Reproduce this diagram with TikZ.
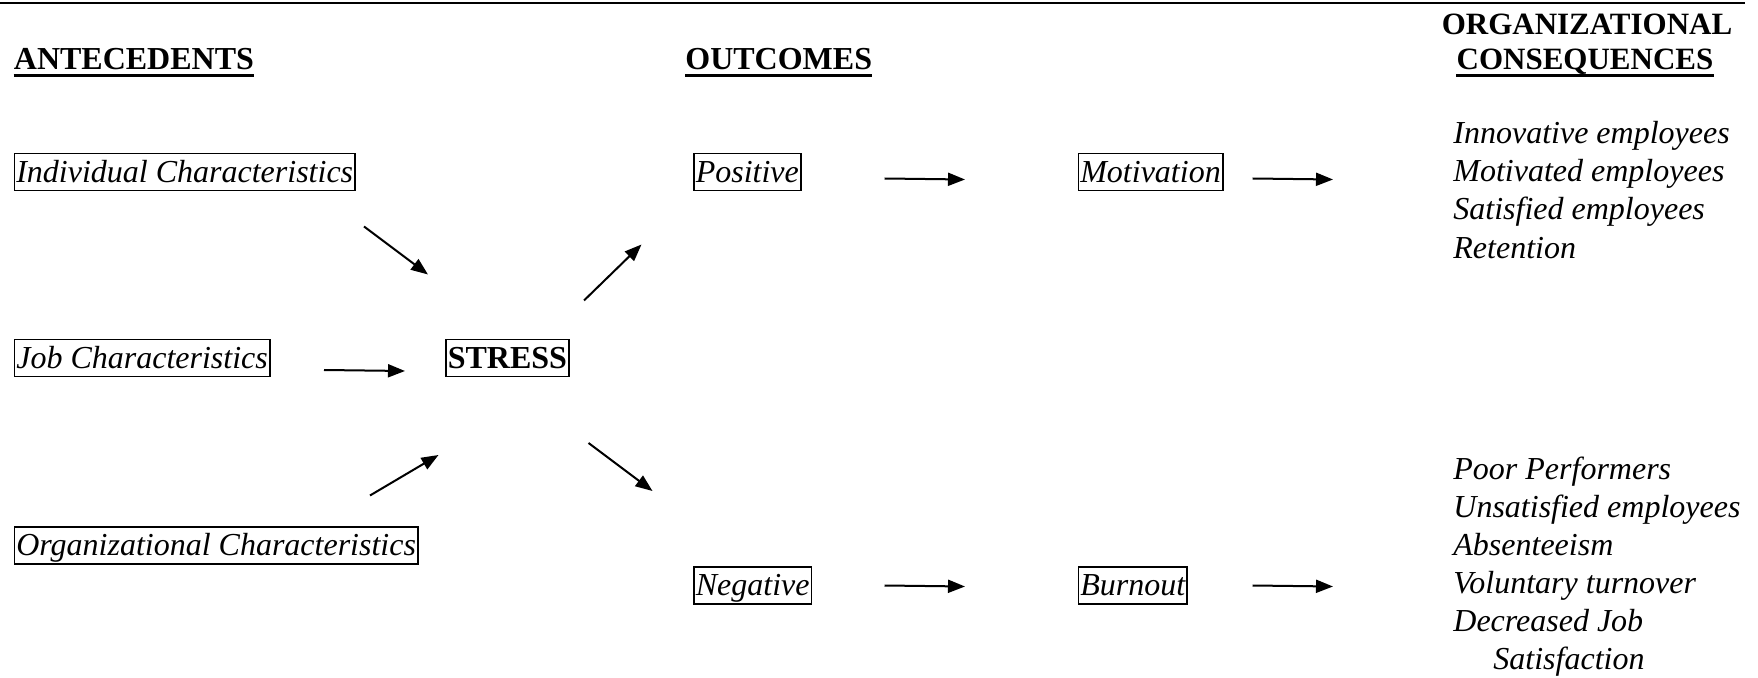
\documentclass[tikz,border=0pt]{standalone}
\usepackage{fontspec}
\setmainfont{Liberation Serif}
\usetikzlibrary{arrows.meta}
\tikzset{
  factor/.style={draw, line width=0.8pt, inner xsep=1pt, inner ysep=1pt, text height=13.5pt, text depth=3pt, anchor=base west, font=\itshape\fontsize{16}{19}\selectfont},
  core/.style={factor, font=\bfseries\fontsize{16}{19}\selectfont},
  colhead/.style={inner sep=0pt, anchor=base west, font=\bfseries\fontsize{16}{19}\selectfont},
  csq/.style={inner sep=0pt, anchor=base west, font=\itshape\fontsize{16}{19}\selectfont},
  link/.style={-{Triangle[length=8.5pt,width=6.5pt]}, line width=1pt},
  uline/.style={line width=1.3pt},
}
\begin{document}
\begin{tikzpicture}[x=0.5pt, y=-0.5pt]
  \useasboundingbox (0,0) rectangle (1758,678);
  \draw[line width=1pt] (0,3) -- (1745,3);
  \node[colhead] (antec) at (13.5,69.5) {ANTECEDENTS};
  \node[colhead] (outc) at (685,69.5) {OUTCOMES};
  \node[colhead, anchor=base, font=\bfseries\fontsize{15.5}{19}\selectfont] (orgc) at (1587,35) {ORGANIZATIONAL};
  \node[colhead, anchor=base, font=\bfseries\fontsize{15.5}{19}\selectfont] (conseq) at (1585,69.5) {CONSEQUENCES};
  \foreach \n in {antec,outc,conseq}
    \draw[uline] ([yshift=-3pt]\n.base west) -- ([yshift=-3pt]\n.base east);
  \node[factor] (ind) at (13.5,182.6) {Individual Characteristics};
  \node[factor] (job) at (13.5,368.7) {Job Characteristics};
  \node[factor] (org) at (13.5,556) {Organizational Characteristics};
  \node[core] (stress) at (445,368.7) {STRESS};
  \node[factor] (pos) at (693,182.6) {Positive};
  \node[factor] (mot) at (1077.5,182.6) {Motivation};
  \node[factor] (neg) at (693,596) {Negative};
  \node[factor] (burn) at (1077.5,596) {Burnout};
  \foreach \t [count=\i] in {Innovative employees, Motivated employees, Satisfied employees, Retention}
    \node[csq] (good\i) at (1453,143.3+38.3*\i-38.3) {\t};
  \foreach \t [count=\i] in {Poor Performers, Unsatisfied employees, Absenteeism, Voluntary turnover, Decreased Job}
    \node[csq] (bad\i) at (1453,480+37.9*\i-37.9) {\t};
  \node[csq] (bad6) at (1493,669.5) {Satisfaction};
  \coordinate (ind-t) at (364,226.5);   \coordinate (ind-h) at (428,274.5);
  \coordinate (job-t) at (324,370);     \coordinate (job-h) at (405,371);
  \coordinate (org-t) at (370,495.5);   \coordinate (org-h) at (438.5,455);
  \coordinate (pos-t) at (584,300.5);   \coordinate (pos-h) at (641.5,244.5);
  \coordinate (neg-t) at (588.5,443);   \coordinate (neg-h) at (652.5,491);
  \coordinate (mot-t) at (884.5,178.5); \coordinate (mot-h) at (965,179.5);
  \coordinate (good-t) at (1252.5,178.5); \coordinate (good-h) at (1333,179.5);
  \coordinate (burn-t) at (884.5,585.5); \coordinate (burn-h) at (965,586.5);
  \coordinate (bad-t) at (1252.5,585.5); \coordinate (bad-h) at (1333,586.5);
  \foreach \a in {ind,job,org,pos,neg,mot,good,burn,bad}
    \draw[link] (\a-t) -- (\a-h);
\end{tikzpicture}
\end{document}
